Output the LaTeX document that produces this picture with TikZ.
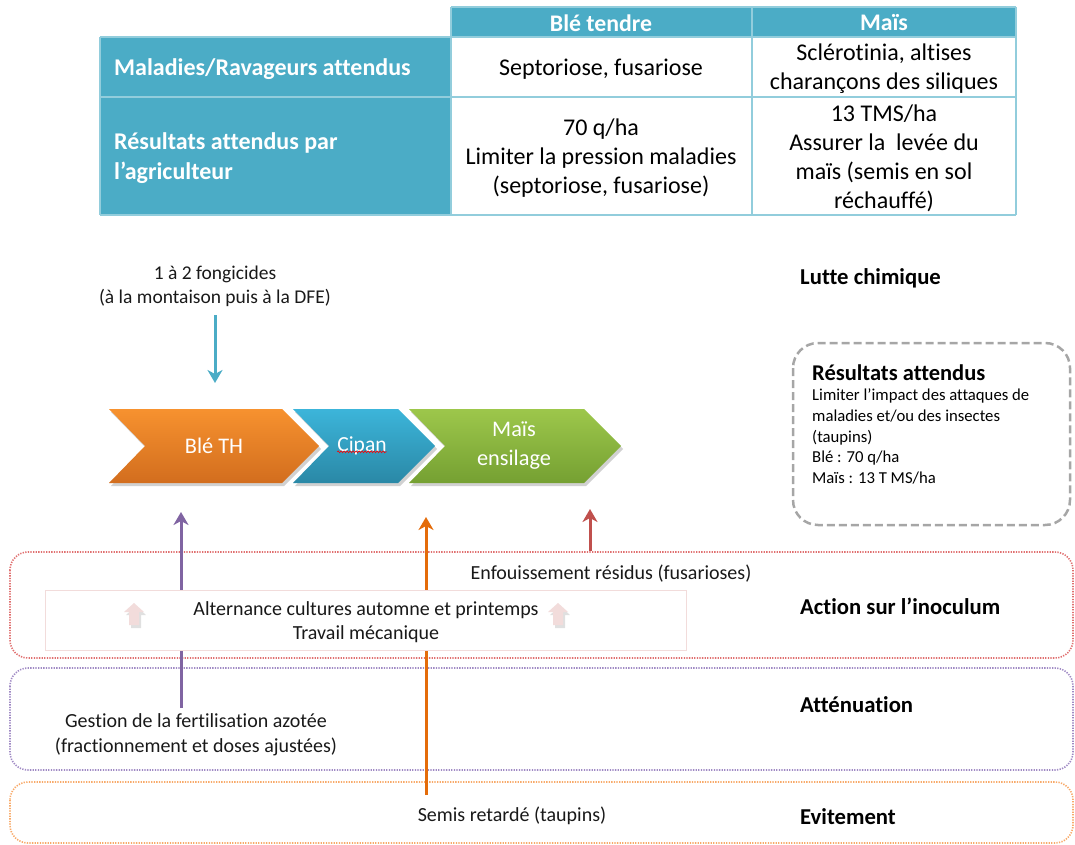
\documentclass[tikz,border=0pt]{standalone}
\usepackage{fontspec}
\setmainfont[Ligatures=NoCommon]{Carlito}
\usetikzlibrary{arrows.meta,decorations.pathmorphing}
\definecolor{tealA}{HTML}{4BACC6}
\definecolor{tborder}{HTML}{92CDDC}
\definecolor{orA}{HTML}{F7922F}
\definecolor{orB}{HTML}{D26D1E}
\definecolor{blA}{HTML}{3CB5DA}
\definecolor{blB}{HTML}{2A88A6}
\definecolor{grA}{HTML}{9DC74B}
\definecolor{grB}{HTML}{75A032}
\definecolor{bandred}{HTML}{E07070}
\definecolor{bandpur}{HTML}{A08AC4}
\definecolor{bandora}{HTML}{F8AA6A}
\definecolor{pinkb}{HTML}{F2DCDB}
\definecolor{purA}{HTML}{8064A2}
\definecolor{orgA}{HTML}{E46C0A}
\definecolor{redA}{HTML}{C0504D}
\definecolor{dashg}{HTML}{A6A6A6}
\begin{document}
\begin{tikzpicture}[x=1pt,y=-1pt,
  hdr/.style={font=\fontsize{23.8}{29}\selectfont\bfseries, text=white, inner sep=0pt},
  rowlab/.style={font=\fontsize{24}{29.5}\selectfont\bfseries, text=white, inner sep=0pt, align=left, anchor=west},
  cell/.style={font=\fontsize{24}{29}\selectfont, text=black, inner sep=0pt, align=center},
  lbl/.style={font=\fontsize{20}{24.5}\selectfont, text=black!90, inner sep=0pt, align=center},
  side/.style={font=\fontsize{22.7}{26}\selectfont\bfseries, text=black, inner sep=0pt, anchor=west},
  chevtext/.style={font=\fontsize{22.3}{29}\selectfont, text=white, inner sep=0pt, align=center},
  tline/.style={tborder, line width=2.5pt},
  band/.style={line width=1.6pt, dash pattern=on 1.3pt off 1.3pt, rounded corners=18pt},
  upar/.style={line width=3pt, -{Stealth[length=13pt,width=15pt,inset=4pt]}},
  shadowc/.style={fill=black, opacity=0.18},
  pinkarrow/.style={fill=pinkb}
]
\useasboundingbox (0,0) rectangle (1075,845);

% ---------- table ----------
\fill[tealA] (451,7) rectangle (1016,37);
\fill[tealA] (100,37) rectangle (451,215);
\draw[tline] (451,7) -- (1016,7);
\draw[tline] (100,37) -- (1016,37);
\draw[tline] (100,97) -- (1016,97);
\draw[tline] (100,215) -- (1016,215);
\draw[tline] (100,37) -- (100,215);
\draw[tline] (451,7) -- (451,215);
\draw[tline] (752,7) -- (752,215);
\draw[tline] (1016,7) -- (1016,215);

\node[hdr] (h1) at (601,23) {Blé tendre};
\node[hdr] (h2) at (884,23) {Maïs};
\node[rowlab] (r1) at (114,69) {Maladies/Ravageurs attendus};
\node[rowlab] (r2) at (114,158) {Résultats attendus par\\l’agriculteur};
\node[cell] (c11) at (601,69) {Septoriose, fusariose};
\node[cell] (c12) at (884,69) {Sclérotinia, altises\\charançons des siliques};
\node[cell] (c21) at (601,158) {70 q/ha\\Limiter la pression maladies\\(septoriose, fusariose)};
\node[cell] (c22) at (884,158) {13 TMS/ha\\Assurer la~ levée du\\maïs (semis en sol\\réchauffé)};

% ---------- bands ----------
\draw[band, bandred] (10,552) rectangle (1073,658);
\draw[band, bandpur] (10,668) rectangle (1073,770);
\draw[band, bandora] (10,782) rectangle (1073,843);

% ---------- chevrons ----------
\fill[shadowc] (111,412) -- (284,412) -- (321,449) -- (284,486) -- (111,486) -- (147,449) -- cycle;
\fill[shadowc] (295,412) -- (400,412) -- (437,449) -- (400,486) -- (295,486) -- (331,449) -- cycle;
\fill[shadowc] (411,412) -- (586,412) -- (623,449) -- (586,486) -- (411,486) -- (447,449) -- cycle;
\shade[top color=orA, bottom color=orB] (109,409) -- (282,409) -- (319,446) -- (282,483) -- (109,483) -- (145,446) -- cycle;
\shade[top color=blA, bottom color=blB] (293,409) -- (398,409) -- (435,446) -- (398,483) -- (293,483) -- (329,446) -- cycle;
\shade[top color=grA, bottom color=grB] (409,409) -- (584,409) -- (621,446) -- (584,483) -- (409,483) -- (445,446) -- cycle;
\node[chevtext] (ble) at (214,446) {Blé TH};
\node[chevtext, font=\fontsize{21.5}{24}\selectfont] (cipan) at (362,446) {Cipan};
\draw[red, line width=0.6pt, decorate, decoration={snake, amplitude=0.9pt, segment length=3pt}] ([yshift=3.5pt]cipan.south west) -- ([yshift=3.5pt]cipan.south east);
\node[chevtext] (mais) at (514,446) {Maïs\\ensilage};

% ---------- fongicides ----------
\node[lbl, font=\fontsize{19.5}{24.5}\selectfont] (fong) at (215,286.5) {1 à 2 fongicides\\(à la montaison puis à la DFE)};
\coordinate (fa) at (215,315);
\coordinate (fb) at (215,383);
\draw[tealA, upar] (fa) -- (fb);

% ---------- résultats attendus ----------
\draw[dashg, line width=2.5pt, dash pattern=on 8pt off 4pt, rounded corners=25pt] (793,343) rectangle (1070,525);
\node[font=\fontsize{22.5}{24}\selectfont\bfseries, inner sep=0pt, anchor=west] (rt) at (812,373) {Résultats attendus};
\node[font=\fontsize{16.7}{20.6}\selectfont, inner sep=0pt, anchor=north west, align=left] (rb) at (812,389) {Limiter l’impact des attaques de\\maladies et/ou des insectes\\(taupins)\\Blé : 70 q/ha\\Maïs : 13 T MS/ha};

% ---------- vertical arrows ----------
\coordinate (pa) at (181,708);
\coordinate (pb) at (181,512);
\coordinate (oa) at (426,795);
\coordinate (ob) at (426,517);
\coordinate (ra) at (590,551);
\coordinate (rb2) at (590,509);
\draw[purA, upar] (pa) -- (pb);
\draw[orgA, upar] (oa) -- (ob);
\draw[redA, upar] (ra) -- (rb2);

% ---------- inoculum inner box ----------
\draw[pinkb, fill=white, line width=1pt] (45,590) rectangle (686,650);
\node[lbl] (alt) at (366,622) {Alternance cultures automne et printemps\\Travail mécanique};
\fill[shadowc, opacity=0.12] (136,606) -- (146,615) -- (141,615) -- (141,628) -- (131,628) -- (131,615) -- (126,615) -- cycle;
\fill[pinkarrow] (134,603) -- (144,612) -- (139,612) -- (139,625) -- (129,625) -- (129,612) -- (124,612) -- cycle;
\fill[shadowc, opacity=0.12] (560,606) -- (570,615) -- (565,615) -- (565,628) -- (555,628) -- (555,615) -- (550,615) -- cycle;
\fill[pinkarrow] (558,603) -- (568,612) -- (563,612) -- (563,625) -- (553,625) -- (553,612) -- (548,612) -- cycle;

% ---------- band texts ----------
\node[lbl] (enf) at (611,574) {Enfouissement résidus (fusarioses)};
\node[lbl] (gest) at (196,735) {Gestion de la fertilisation azotée\\(fractionnement et doses ajustées)};
\node[lbl] (semis) at (512,816) {Semis retardé (taupins)};

% ---------- side labels ----------
\node[side] (s1) at (800,278) {Lutte chimique};
\node[side] (s2) at (800,606) {Action sur l’inoculum};
\node[side] (s3) at (800,705) {Atténuation};
\node[side] (s4) at (800,817) {Evitement};
\end{tikzpicture}
\end{document}
